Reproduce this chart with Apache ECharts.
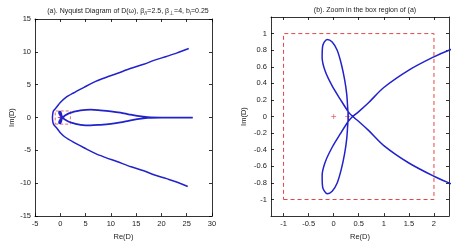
<!DOCTYPE html>
<html><head><meta charset="utf-8">
<script src="https://cdn.jsdelivr.net/npm/echarts@6/dist/echarts.min.js"></script>
<style>html,body{margin:0;padding:0;background:#fff}#c{width:463px;height:246px}</style>
</head><body><div id="c"></div>
<script>
// Outer branch of the Nyquist curve
const outerX = [25.4, 23, 21, 18.5, 16.5, 14, 11.2, 9, 7, 4.7, 2.5, 1, 0, -0.7, -1.35, -1.5, -1.55, -1.5, -1.35, -0.7, 0, 1, 2.5, 4.7, 7, 9, 11.2, 14, 16.5, 18.5, 21, 23, 25.2];
const outerY = [10.5, 9.8, 9.3, 8.7, 8.1, 7.5, 6.7, 6.1, 5.5, 4.6, 3.7, 3.0, 2.3, 1.6, 1.0, 0.5, 0, -0.5, -1.0, -1.6, -2.3, -3.0, -3.7, -4.6, -5.5, -6.1, -6.7, -7.5, -8.1, -8.7, -9.3, -9.8, -10.5];
// Inner closed loop (with the two small petals near the origin)
const innerX = [26.2, 20, 17.3, 15.2, 13.5, 11.9, 10, 7.9, 6, 5, 4, 3, 2.3, 2, 1.5, 1, 0.7, 0.5, 0.38, 0.3, 0.13, -0.03, -0.17, -0.23, -0.22, -0.13, -0.03, 0.07, 0.15, 0.22, 0.26, 0.28, 0.29, 0.28, 0.26, 0.22, 0.15, 0.07, -0.03, -0.13, -0.22, -0.23, -0.17, -0.03, 0.13, 0.3, 0.38, 0.5, 0.7, 1, 1.5, 2, 2.3, 3, 4, 5, 6, 7.9, 10, 11.9, 13.5, 15.2, 17.3, 20, 26.2];
const innerY = [0, 0, 0.05, 0.25, 0.5, 0.75, 0.95, 1.1, 1.2, 1.18, 1.1, 0.95, 0.8, 0.72, 0.56, 0.35, 0.17, 0.06, 0, -0.05, -0.21, -0.37, -0.55, -0.71, -0.85, -0.93, -0.9, -0.8, -0.64, -0.44, -0.27, -0.1, 0, 0.1, 0.27, 0.44, 0.64, 0.8, 0.9, 0.93, 0.85, 0.71, 0.55, 0.37, 0.21, 0.05, 0, -0.06, -0.17, -0.35, -0.56, -0.72, -0.8, -0.95, -1.1, -1.18, -1.2, -1.1, -0.95, -0.75, -0.5, -0.25, -0.05, 0, 0];
// Dashed zoom box
const boxX = [-1, 2, 2, -1, -1];
const boxY = [-1, -1, 1, 1, -1];
// Red markers
const plusX = [0, 0.28];
const plusY = [0, 0];
const crossX = [0.38];
const crossY = [0];
// Tick labels
const xTicksA = [-5, 0, 5, 10, 15, 20, 25, 30];
const yTicksA = [-15, -10, -5, 0, 5, 10, 15];
const xTicksB = [-1, -0.5, 0, 0.5, 1, 1.5, 2];
const yTicksB = [-1, -0.8, -0.6, -0.4, -0.2, 0, 0.2, 0.4, 0.6, 0.8, 1];

const zip = (a, b) => a.map((v, i) => [v, b[i]]);
const chart = echarts.init(document.getElementById('c'), null, {renderer: 'canvas'});
const FONT = 'Liberation Sans';
const lbl = {fontFamily: FONT, fontSize: 7.5, color: '#222', margin: 4};
const tick = {show: true, inside: true, length: 3, lineStyle: {color: '#000', width: 0.8}};
const line = {show: true, lineStyle: {color: '#000', width: 0.8}};
const blue = '#2222cc';
const red = '#e04848';

function mainX(grid, min, max, ticks) {
  return {type: 'value', gridIndex: grid, min, max, position: 'bottom',
    axisLine: Object.assign({onZero: false}, line),
    axisTick: Object.assign({customValues: ticks}, tick),
    axisLabel: Object.assign({customValues: ticks}, lbl),
    splitLine: {show: false},
    name: 'Re(D)', nameLocation: 'middle', nameGap: 13,
    nameTextStyle: {fontFamily: FONT, fontSize: 7.5, color: '#222'}};
}
function mainY(grid, min, max, ticks, gap) {
  return {type: 'value', gridIndex: grid, min, max, position: 'left',
    axisLine: Object.assign({onZero: false}, line),
    axisTick: Object.assign({customValues: ticks}, tick),
    axisLabel: Object.assign({customValues: ticks}, lbl),
    splitLine: {show: false},
    name: 'Im(D)', nameLocation: 'middle', nameGap: gap,
    nameTextStyle: {fontFamily: FONT, fontSize: 7.5, color: '#222'}};
}
function sideX(grid, min, max, ticks) {
  return {type: 'value', gridIndex: grid, min, max, position: 'top',
    axisLine: Object.assign({onZero: false}, line),
    axisTick: Object.assign({customValues: ticks}, tick),
    axisLabel: {show: false}, splitLine: {show: false}};
}
function sideY(grid, min, max, ticks) {
  return {type: 'value', gridIndex: grid, min, max, position: 'right',
    axisLine: Object.assign({onZero: false}, line),
    axisTick: Object.assign({customValues: ticks}, tick),
    axisLabel: {show: false}, splitLine: {show: false}};
}

const rich = {sub: {fontFamily: FONT, fontSize: 5.5, color: '#222', verticalAlign: 'bottom', padding: [4, 0, 0, 0]},
  n: {fontFamily: FONT, fontSize: 7, color: '#222'}};

chart.setOption({
  animation: false,
  backgroundColor: '#fff',
  title: [
    {text: '{n|(a). Nyquist Diagram of D(ω), β}{sub|//}{n|=2.5, β}{sub|⊥}{n|=4, b}{sub|i}{n|=0.25}',
     left: 123, top: 1, textAlign: 'center', textStyle: {rich, fontSize: 7, fontFamily: FONT, fontWeight: 'normal'}},
    {text: '(b). Zoom in the box region of (a)', left: 360, top: 2, textAlign: 'center',
     textStyle: {fontFamily: FONT, fontSize: 7, color: '#222', fontWeight: 'normal'}}
  ],
  grid: [
    {left: 35, right: 251, top: 19, bottom: 29},
    {left: 271, right: 14, top: 17, bottom: 28}
  ],
  xAxis: [
    mainX(0, -5, 30, xTicksA),
    sideX(0, -5, 30, xTicksA),
    mainX(1, -1.25, 2.3, xTicksB),
    sideX(1, -1.25, 2.3, xTicksB)
  ],
  yAxis: [
    mainY(0, -15, 15, yTicksA, 18),
    sideY(0, -15, 15, yTicksA),
    mainY(1, -1.2, 1.2, yTicksB, 23),
    sideY(1, -1.2, 1.2, yTicksB)
  ],
  series: [
    {type: 'line', xAxisIndex: 0, yAxisIndex: 0, data: zip(boxX, boxY), symbol: 'none',
     lineStyle: {color: red, width: 0.8, type: [3, 2]}},
    {type: 'line', xAxisIndex: 0, yAxisIndex: 0, data: zip(outerX, outerY), symbol: 'none', smooth: 0.3,
     lineStyle: {color: blue, width: 1.5}},
    {type: 'line', xAxisIndex: 0, yAxisIndex: 0, data: zip(innerX, innerY), symbol: 'none', smooth: 0.3,
     lineStyle: {color: blue, width: 1.8}},
    {type: 'scatter', xAxisIndex: 0, yAxisIndex: 0, data: zip(plusX, plusY), symbol: 'path://M-1,0L1,0M0,-1L0,1', symbolSize: 5,
     itemStyle: {color: 'none', borderColor: '#c0206a', borderWidth: 1}},
    {type: 'line', xAxisIndex: 2, yAxisIndex: 2, data: zip(boxX, boxY), symbol: 'none',
     lineStyle: {color: red, width: 1, type: [4, 3]}},
    {type: 'line', xAxisIndex: 2, yAxisIndex: 2, data: zip(innerX, innerY), symbol: 'none', smooth: 0.3,
     lineStyle: {color: blue, width: 1.5}},
    {type: 'scatter', xAxisIndex: 2, yAxisIndex: 2, data: zip(plusX, plusY), symbol: 'path://M-1,0L1,0M0,-1L0,1', symbolSize: 5,
     itemStyle: {color: 'none', borderColor: red, borderWidth: 0.8}},
    {type: 'scatter', xAxisIndex: 2, yAxisIndex: 2, data: zip(crossX, crossY), symbol: 'path://M-1,-1L1,1M-1,1L1,-1', symbolSize: 5,
     itemStyle: {color: 'none', borderColor: red, borderWidth: 0.8}}
  ]
});
</script></body></html>
